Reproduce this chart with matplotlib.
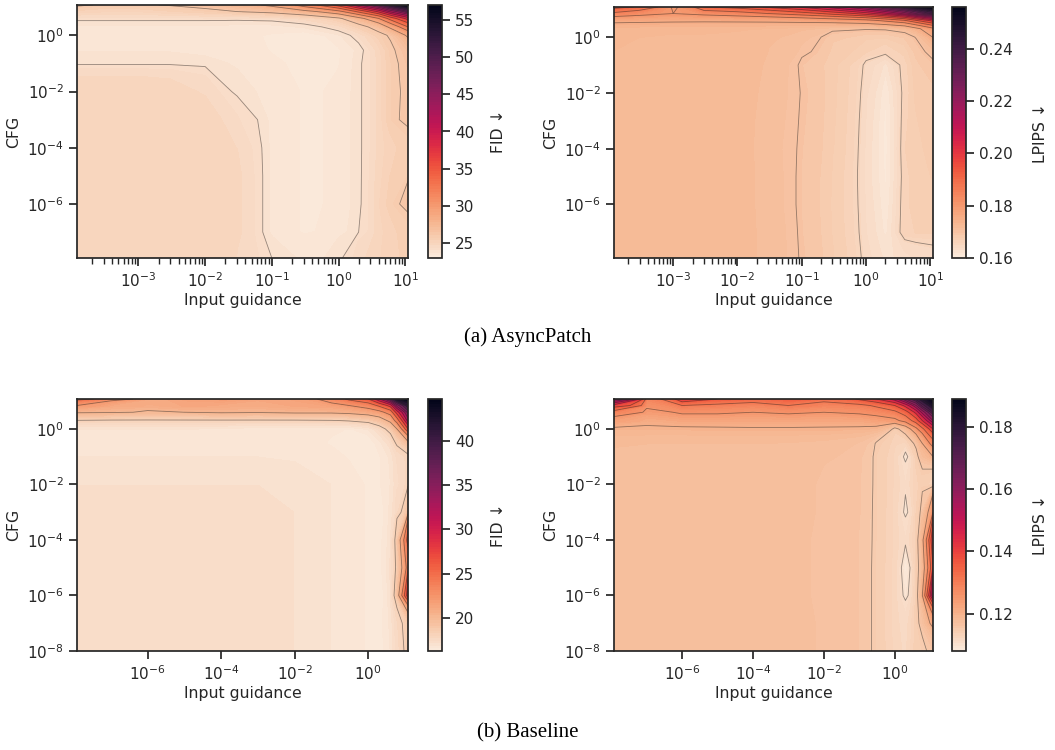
import numpy as np
import matplotlib
matplotlib.use("Agg")
import matplotlib.pyplot as plt
from matplotlib import ticker
import seaborn as sns

# grids (log spaced sweeps of the two guidance scales)
guid_a = [1.2e-4, 3e-4, 1e-3, 3e-3, 1e-2, 3e-2, 0.1, 0.3, 1, 2, 4, 6, 11]
cfg_a = [1.2e-8, 1e-7, 1e-6, 1e-5, 1e-4, 1e-3, 1e-2, 0.1, 0.3, 1, 2, 4, 7, 12]
guid_b = [1.2e-8, 1e-7, 1e-6, 1e-5, 1e-4, 1e-3, 1e-2, 0.1, 0.3, 1, 2, 4, 6, 12]
cfg_b = [1e-8, 1e-7, 1e-6, 1e-5, 1e-4, 1e-3, 1e-2, 0.1, 0.3, 1, 2, 4, 7, 12]

# rows = cfg (low -> high), cols = input guidance (low -> high)
fid_a = [
    [25.0, 25.0, 25.0, 25.0, 25.0, 24.7, 24.0, 23.5, 23.9, 24.6, 25.0, 25.3, 25.5],
    [25.0, 25.0, 25.0, 25.0, 25.0, 24.8, 23.5, 23.3, 23.5, 24.0, 24.9, 25.3, 25.6],
    [25.0, 25.0, 25.0, 25.0, 25.0, 24.8, 23.5, 23.3, 23.4, 23.9, 25.0, 25.6, 26.5],
    [25.0, 25.0, 25.0, 25.0, 25.0, 24.8, 23.5, 23.3, 23.4, 23.9, 24.9, 25.4, 25.7],
    [25.0, 25.0, 25.0, 25.0, 24.9, 24.7, 23.5, 23.3, 23.4, 23.9, 24.8, 25.3, 25.6],
    [25.0, 25.0, 25.0, 25.0, 24.9, 24.4, 23.5, 23.3, 23.4, 23.9, 24.8, 25.7, 26.4],
    [25.0, 25.0, 25.0, 24.9, 24.6, 23.8, 23.5, 23.3, 23.4, 23.9, 24.8, 25.7, 26.3],
    [23.9, 23.9, 23.9, 23.9, 23.8, 23.6, 23.4, 23.2, 23.3, 23.9, 24.8, 25.7, 26.5],
    [23.6, 23.6, 23.6, 23.6, 23.5, 23.5, 23.3, 23.1, 23.3, 23.8, 24.9, 25.8, 26.8],
    [23.5, 23.5, 23.5, 23.5, 23.4, 23.4, 23.3, 23.1, 23.6, 24.4, 25.6, 26.2, 28.4],
    [23.6, 23.6, 23.6, 23.6, 23.6, 23.5, 23.5, 23.7, 24.5, 25.5, 26.8, 28.5, 32.0],
    [24.2, 24.2, 24.2, 24.2, 24.2, 24.2, 24.3, 24.8, 25.8, 27.5, 30.0, 33.0, 37.0],
    [25.2, 25.0, 25.0, 25.3, 25.6, 26.0, 26.5, 27.5, 29.5, 32.5, 36.5, 40.5, 46.0],
    [26.2, 25.8, 25.9, 26.1, 26.6, 27.4, 28.5, 31.0, 35.0, 40.0, 46.0, 51.0, 56.8],
]

lpips_a = [
    [0.1722, 0.1722, 0.1721, 0.1721, 0.1720, 0.1712, 0.1698, 0.1678, 0.1642, 0.1625, 0.1635, 0.1640, 0.1643],
    [0.1722, 0.1722, 0.1721, 0.1721, 0.1720, 0.1712, 0.1697, 0.1676, 0.1638, 0.1615, 0.1666, 0.1668, 0.1670],
    [0.1723, 0.1722, 0.1722, 0.1721, 0.1720, 0.1711, 0.1696, 0.1675, 0.1636, 0.1610, 0.1665, 0.1672, 0.1675],
    [0.1723, 0.1722, 0.1722, 0.1721, 0.1720, 0.1711, 0.1696, 0.1676, 0.1634, 0.1606, 0.1663, 0.1675, 0.1678],
    [0.1723, 0.1723, 0.1722, 0.1721, 0.1720, 0.1710, 0.1697, 0.1678, 0.1635, 0.1604, 0.1667, 0.1676, 0.1680],
    [0.1723, 0.1723, 0.1722, 0.1721, 0.1720, 0.1711, 0.1698, 0.1679, 0.1637, 0.1605, 0.1664, 0.1677, 0.1682],
    [0.1724, 0.1723, 0.1722, 0.1722, 0.1721, 0.1712, 0.1699, 0.1680, 0.1640, 0.1610, 0.1660, 0.1680, 0.1686],
    [0.1725, 0.1724, 0.1723, 0.1723, 0.1722, 0.1714, 0.1697, 0.1680, 0.1645, 0.1625, 0.1662, 0.1685, 0.1695],
    [0.1726, 0.1725, 0.1724, 0.1724, 0.1723, 0.1716, 0.1704, 0.1684, 0.1668, 0.1660, 0.1672, 0.1690, 0.1712],
    [0.1727, 0.1726, 0.1725, 0.1725, 0.1724, 0.1718, 0.1710, 0.1690, 0.1680, 0.1678, 0.1688, 0.1702, 0.1752],
    [0.1730, 0.1729, 0.1728, 0.1728, 0.1727, 0.1724, 0.1718, 0.1706, 0.1703, 0.1705, 0.1715, 0.1740, 0.1790],
    [0.1762, 0.1760, 0.1758, 0.1757, 0.1758, 0.1760, 0.1765, 0.1775, 0.1790, 0.1815, 0.1850, 0.1900, 0.1980],
    [0.1840, 0.1820, 0.1800, 0.1815, 0.1830, 0.1850, 0.1880, 0.1920, 0.1980, 0.2040, 0.2120, 0.2200, 0.2320],
    [0.1920, 0.1890, 0.1790, 0.1900, 0.1920, 0.1960, 0.2010, 0.2080, 0.2180, 0.2280, 0.2380, 0.2470, 0.2560],
]

fid_b = [
    [17.2, 17.2, 17.2, 17.2, 17.2, 17.2, 17.1, 16.8, 16.6, 16.5, 16.4, 16.8, 17.5, 18.4],
    [17.2, 17.2, 17.2, 17.2, 17.2, 17.2, 17.1, 16.8, 16.6, 16.5, 16.4, 16.9, 17.6, 18.6],
    [17.2, 17.2, 17.2, 17.2, 17.2, 17.2, 17.1, 16.8, 16.6, 16.5, 16.3, 17.0, 19.0, 27.5],
    [17.2, 17.2, 17.2, 17.2, 17.2, 17.2, 17.1, 16.8, 16.6, 16.5, 16.4, 17.1, 18.3, 23.0],
    [17.2, 17.2, 17.2, 17.2, 17.2, 17.2, 17.1, 16.8, 16.6, 16.5, 16.4, 17.0, 18.6, 25.0],
    [17.2, 17.2, 17.2, 17.2, 17.2, 17.2, 17.1, 16.8, 16.6, 16.5, 16.3, 16.9, 17.5, 19.2],
    [17.1, 17.1, 17.1, 17.1, 17.1, 17.1, 17.0, 16.8, 16.6, 16.5, 16.5, 16.8, 17.3, 17.8],
    [16.8, 16.8, 16.8, 16.8, 16.8, 16.8, 16.7, 16.6, 16.5, 16.4, 16.5, 16.9, 17.4, 17.8],
    [16.7, 16.7, 16.7, 16.7, 16.7, 16.7, 16.6, 16.5, 16.4, 16.3, 16.7, 17.3, 18.2, 19.5],
    [16.8, 16.8, 16.8, 16.8, 16.7, 16.6, 16.6, 16.6, 16.5, 16.8, 17.5, 18.6, 20.0, 26.0],
    [17.95, 17.9, 17.9, 17.9, 17.9, 17.9, 17.9, 17.95, 18.1, 18.5, 19.2, 20.5, 23.0, 31.0],
    [20.2, 20.1, 19.8, 20.0, 20.2, 20.1, 20.3, 20.3, 20.5, 21.0, 21.5, 23.0, 27.0, 35.0],
    [22.0, 21.0, 20.8, 21.2, 21.0, 20.9, 21.2, 21.5, 22.0, 23.0, 24.5, 27.0, 33.0, 40.0],
    [24.5, 22.5, 21.0, 21.5, 21.8, 21.2, 21.5, 23.0, 24.5, 26.0, 30.0, 36.0, 42.0, 44.6],
]

lpips_b = [
    [0.1172, 0.1172, 0.1172, 0.1172, 0.1172, 0.1171, 0.1169, 0.1161, 0.1143, 0.1124, 0.1118, 0.1142, 0.1145, 0.1160],
    [0.1172, 0.1172, 0.1172, 0.1172, 0.1172, 0.1171, 0.1169, 0.1161, 0.1143, 0.1123, 0.1115, 0.1140, 0.1165, 0.1220],
    [0.1172, 0.1172, 0.1172, 0.1172, 0.1172, 0.1171, 0.1168, 0.1161, 0.1143, 0.1123, 0.1091, 0.1138, 0.1200, 0.1500],
    [0.1172, 0.1172, 0.1172, 0.1172, 0.1172, 0.1171, 0.1168, 0.1161, 0.1143, 0.1123, 0.1080, 0.1137, 0.1175, 0.1350],
    [0.1172, 0.1172, 0.1172, 0.1172, 0.1172, 0.1171, 0.1168, 0.1161, 0.1144, 0.1124, 0.1112, 0.1138, 0.1190, 0.1400],
    [0.1172, 0.1172, 0.1172, 0.1172, 0.1172, 0.1171, 0.1169, 0.1162, 0.1144, 0.1124, 0.1093, 0.1135, 0.1160, 0.1250],
    [0.1172, 0.1172, 0.1172, 0.1172, 0.1172, 0.1171, 0.1169, 0.1162, 0.1145, 0.1125, 0.1112, 0.1135, 0.1140, 0.1130],
    [0.1175, 0.1174, 0.1174, 0.1174, 0.1174, 0.1173, 0.1171, 0.1163, 0.1145, 0.1125, 0.1092, 0.1140, 0.1175, 0.1200],
    [0.1180, 0.1178, 0.1178, 0.1178, 0.1178, 0.1177, 0.1175, 0.1168, 0.1148, 0.1130, 0.1125, 0.1160, 0.1200, 0.1280],
    [0.1195, 0.1195, 0.1195, 0.1196, 0.1197, 0.1197, 0.1196, 0.1195, 0.1190, 0.1140, 0.1175, 0.1240, 0.1290, 0.1400],
    [0.1230, 0.1210, 0.1220, 0.1220, 0.1220, 0.1220, 0.1220, 0.1220, 0.1230, 0.1240, 0.1270, 0.1330, 0.1400, 0.1550],
    [0.1280, 0.1240, 0.1260, 0.1260, 0.1250, 0.1260, 0.1250, 0.1260, 0.1270, 0.1290, 0.1330, 0.1420, 0.1520, 0.1700],
    [0.1380, 0.1260, 0.1300, 0.1290, 0.1280, 0.1300, 0.1280, 0.1290, 0.1310, 0.1350, 0.1420, 0.1550, 0.1680, 0.1820],
    [0.1580, 0.1280, 0.1400, 0.1350, 0.1330, 0.1350, 0.1320, 0.1360, 0.1400, 0.1480, 0.1600, 0.1720, 0.1800, 0.1883],
]

sns.set_theme(style="ticks")
plt.rcParams["font.family"] = ["DejaVu Sans"]
plt.rcParams["font.size"] = 11
plt.rcParams["xtick.labelsize"] = 11
plt.rcParams["ytick.labelsize"] = 11
plt.rcParams["axes.labelsize"] = 11.3

W, H = 1055, 750
fig = plt.figure(figsize=(W / 100, H / 100), dpi=100)


def box(x0, y0, x1, y1):
    return [x0 / W, 1 - y1 / H, (x1 - x0) / W, (y1 - y0) / H]


def panel(ax_box, cax_box, x, y, z, label, pad, step, res):
    ax = fig.add_axes(box(*ax_box))
    cax = fig.add_axes(box(*cax_box))
    z = np.array(z)
    # fill levels snapped to a round resolution, like contourf(levels=100)
    lo = np.floor(z.min() / res) * res
    hi = np.ceil(z.max() / res) * res
    cf = ax.contourf(x, y, z, levels=np.linspace(lo, hi, 100), cmap="rocket_r")
    cf.set_edgecolor("face")
    line_levels = np.arange(np.ceil(z.min() / step) * step, z.max(), step)
    ax.contour(x, y, z, levels=line_levels, colors="k", linewidths=0.6, alpha=0.45)
    ax.set_xscale("log")
    ax.set_yscale("log")
    ax.set_xlabel("Input guidance", labelpad=2)
    ax.set_ylabel("CFG")
    cb = fig.colorbar(cf, cax=cax)
    cb.locator = ticker.MaxNLocator(7, steps=[1, 2, 5, 10])
    cb.update_ticks()
    cb.set_label(label, labelpad=pad)
    return ax, cb


panel((77, 5, 408, 258), (428, 5, 442, 258), guid_a, cfg_a, fid_a, "FID ↓", 12, 2, 0.5)
panel((614, 7, 933, 258), (952, 7, 966, 258), guid_a, cfg_a, lpips_a, "LPIPS ↓", 14, 0.005, 0.001)
panel((77, 399, 408, 651), (428, 399, 442, 651), guid_b, cfg_b, fid_b, "FID ↓", 12, 2, 0.25)
panel((614, 399, 933, 651), (952, 399, 966, 651), guid_b, cfg_b, lpips_b, "LPIPS ↓", 14, 0.005, 0.001)

fig.text(0.5, 1 - 337 / H, "(a) AsyncPatch", ha="center", va="center",
         family="Liberation Serif", fontsize=15, color="black")
fig.text(0.5, 1 - 733 / H, "(b) Baseline", ha="center", va="center",
         family="Liberation Serif", fontsize=15, color="black")

fig.savefig("out.png", dpi=100)
